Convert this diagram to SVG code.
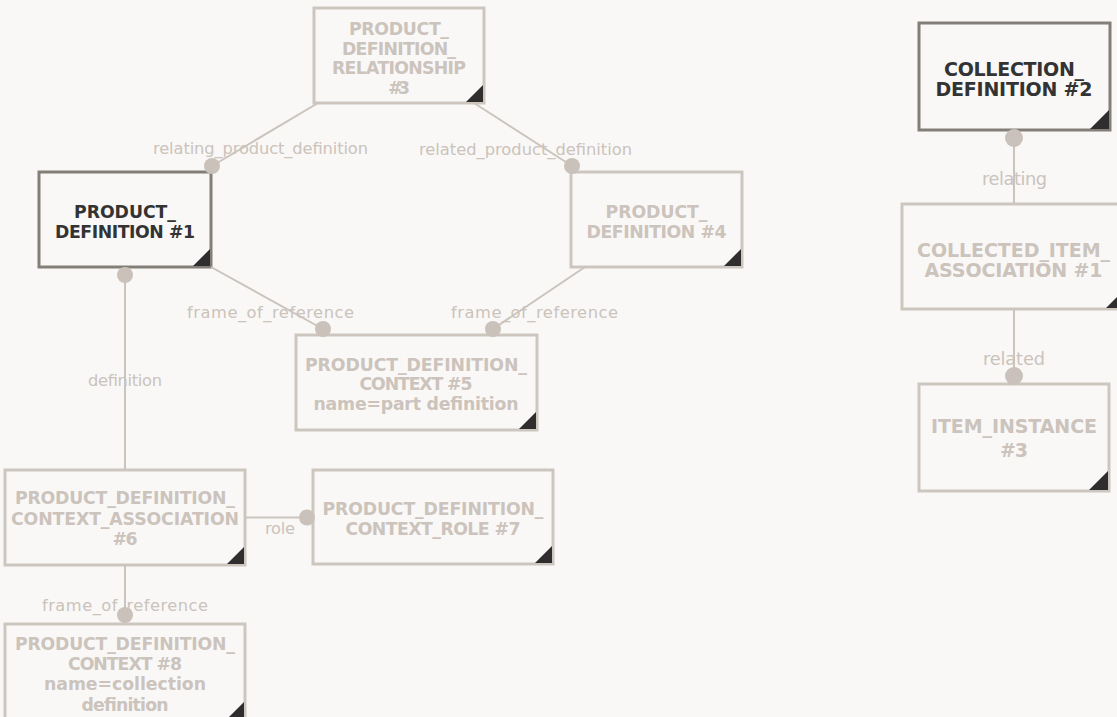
<svg xmlns="http://www.w3.org/2000/svg" width="1117" height="717" viewBox="0 0 1117 717">
<style>
.box{fill:#f9f8f6;stroke:#cdc6bf;stroke-width:3}
.dark{stroke:#847e79}
.t{font-family:"DejaVu Sans",Verdana,sans-serif;font-weight:bold;font-size:17.3px;fill:#cbc3bc;text-anchor:middle}
.r{font-size:19px}
.td{fill:#333333}
.tri{fill:#2f2d2e}
.conn{stroke:#cbc4bd;stroke-width:2;fill:none}
.dot{fill:#c9c1ba}
.lbl{font-family:"DejaVu Sans",Verdana,sans-serif;font-size:16.3px;fill:#cbc3bc;text-anchor:middle}
.lr{font-size:17.8px}
</style>
<rect width="1117" height="717" fill="#f9f8f6"/>

<g id="n-pdr3">
<rect class="box" x="314" y="8" width="170" height="95"/>
<polygon class="tri" points="483,85 483,102 466,102"/>
<text class="t" x="399" y="35" textLength="100" lengthAdjust="spacing">PRODUCT_</text>
<text class="t" x="399" y="54.5" textLength="114" lengthAdjust="spacing">DEFINITION_</text>
<text class="t" x="399" y="74" textLength="134" lengthAdjust="spacing">RELATIONSHIP</text>
<text class="t" x="399" y="93.5" textLength="22" lengthAdjust="spacing">#3</text>
</g>

<g id="n-pd1">
<rect class="box dark" x="39" y="172" width="172" height="95"/>
<polygon class="tri" points="210,249 210,266 193,266"/>
<text class="t td" x="125" y="217.5" textLength="102" lengthAdjust="spacing">PRODUCT_</text>
<text class="t td" x="125" y="237.5" textLength="140" lengthAdjust="spacing">DEFINITION #1</text>
</g>

<g id="n-pd4">
<rect class="box" x="571" y="172" width="171" height="95"/>
<polygon class="tri" points="741,249 741,266 724,266"/>
<text class="t" x="656.5" y="217.5" textLength="102" lengthAdjust="spacing">PRODUCT_</text>
<text class="t" x="656.5" y="237.5" textLength="140" lengthAdjust="spacing">DEFINITION #4</text>
</g>

<g id="n-pdc5">
<rect class="box" x="296" y="335" width="241" height="95"/>
<polygon class="tri" points="536,412 536,429 519,429"/>
<text class="t" x="416" y="370.5" textLength="222" lengthAdjust="spacing">PRODUCT_DEFINITION_</text>
<text class="t" x="416" y="390" textLength="113" lengthAdjust="spacing">CONTEXT #5</text>
<text class="t" x="416" y="410" textLength="205" lengthAdjust="spacing">name=part definition</text>
</g>

<g id="n-pdca6">
<rect class="box" x="5" y="470" width="240" height="95"/>
<polygon class="tri" points="244,547 244,564 227,564"/>
<text class="t" x="125" y="504" textLength="220" lengthAdjust="spacing">PRODUCT_DEFINITION_</text>
<text class="t" x="125" y="524.5" textLength="228" lengthAdjust="spacing">CONTEXT_ASSOCIATION</text>
<text class="t" x="125" y="545" textLength="25" lengthAdjust="spacing">#6</text>
</g>

<g id="n-pdcr7">
<rect class="box" x="313" y="470" width="240" height="94"/>
<polygon class="tri" points="552,546 552,563 535,563"/>
<text class="t" x="433" y="515" textLength="221" lengthAdjust="spacing">PRODUCT_DEFINITION_</text>
<text class="t" x="433" y="535" textLength="175" lengthAdjust="spacing">CONTEXT_ROLE #7</text>
</g>

<g id="n-pdc8">
<rect class="box" x="5" y="624" width="240" height="96"/>
<polygon class="tri" points="244,702 244,719 227,719"/>
<text class="t" x="125" y="650" textLength="220" lengthAdjust="spacing">PRODUCT_DEFINITION_</text>
<text class="t" x="125" y="670" textLength="114" lengthAdjust="spacing">CONTEXT #8</text>
<text class="t" x="125" y="690" textLength="162" lengthAdjust="spacing">name=collection</text>
<text class="t" x="125" y="710.5" textLength="87" lengthAdjust="spacing">definition</text>
</g>

<g id="n-cd2">
<rect class="box dark" x="919" y="23" width="191" height="107"/>
<polygon class="tri" points="1109,110 1109,129 1090,129"/>
<text class="t td r" x="1014" y="75.5" textLength="140" lengthAdjust="spacing">COLLECTION_</text>
<text class="t td r" x="1014" y="96" textLength="157" lengthAdjust="spacing">DEFINITION #2</text>
</g>

<g id="n-cia1">
<rect class="box" x="902" y="204" width="224" height="105"/>
<polygon class="tri" points="1125,289 1125,308 1106,308"/>
<text class="t r" x="1013.5" y="257" textLength="193" lengthAdjust="spacing">COLLECTED_ITEM_</text>
<text class="t r" x="1013.5" y="277" textLength="178" lengthAdjust="spacing">ASSOCIATION #1</text>
</g>

<g id="n-item3">
<rect class="box" x="919" y="384" width="190" height="107"/>
<polygon class="tri" points="1108,471 1108,490 1089,490"/>
<text class="t r" x="1014" y="433" textLength="166" lengthAdjust="spacing">ITEM_INSTANCE</text>
<text class="t r" x="1014" y="456.5" textLength="28" lengthAdjust="spacing">#3</text>
</g>

<g id="connectors">
<line class="conn" x1="318" y1="103" x2="212" y2="166"/>
<circle class="dot" cx="212" cy="166" r="8"/>
<text class="lbl" x="260.5" y="154" textLength="215" lengthAdjust="spacing">relating_product_definition</text>

<line class="conn" x1="474" y1="103" x2="572" y2="166"/>
<circle class="dot" cx="572" cy="166" r="8"/>
<text class="lbl" x="525.5" y="155" textLength="213" lengthAdjust="spacing">related_product_definition</text>

<line class="conn" x1="211" y1="267" x2="323" y2="329"/>
<circle class="dot" cx="323" cy="329" r="8"/>
<text class="lbl" x="270.5" y="318" textLength="167" lengthAdjust="spacing">frame_of_reference</text>

<line class="conn" x1="585" y1="267" x2="493" y2="329"/>
<circle class="dot" cx="493" cy="329" r="8"/>
<text class="lbl" x="534.5" y="318" textLength="167" lengthAdjust="spacing">frame_of_reference</text>

<line class="conn" x1="125" y1="470" x2="125" y2="275"/>
<circle class="dot" cx="125" cy="275" r="8"/>
<text class="lbl" x="125" y="386" textLength="74" lengthAdjust="spacing">definition</text>

<line class="conn" x1="245" y1="517.5" x2="307" y2="517.5"/>
<circle class="dot" cx="307" cy="517.5" r="8"/>
<text class="lbl" x="280" y="534" textLength="30" lengthAdjust="spacing">role</text>

<line class="conn" x1="125" y1="565" x2="125" y2="615"/>
<circle class="dot" cx="125" cy="615" r="8"/>
<text class="lbl" x="125" y="611" textLength="166" lengthAdjust="spacing">frame_of_reference</text>

<line class="conn" x1="1014" y1="204" x2="1014" y2="138"/>
<circle class="dot" cx="1014" cy="138" r="9"/>
<text class="lbl lr" x="1014.5" y="185" textLength="65" lengthAdjust="spacing">relating</text>

<line class="conn" x1="1014" y1="309" x2="1014" y2="376"/>
<circle class="dot" cx="1014" cy="376" r="9"/>
<text class="lbl lr" x="1014" y="365" textLength="62" lengthAdjust="spacing">related</text>
</g>
</svg>
